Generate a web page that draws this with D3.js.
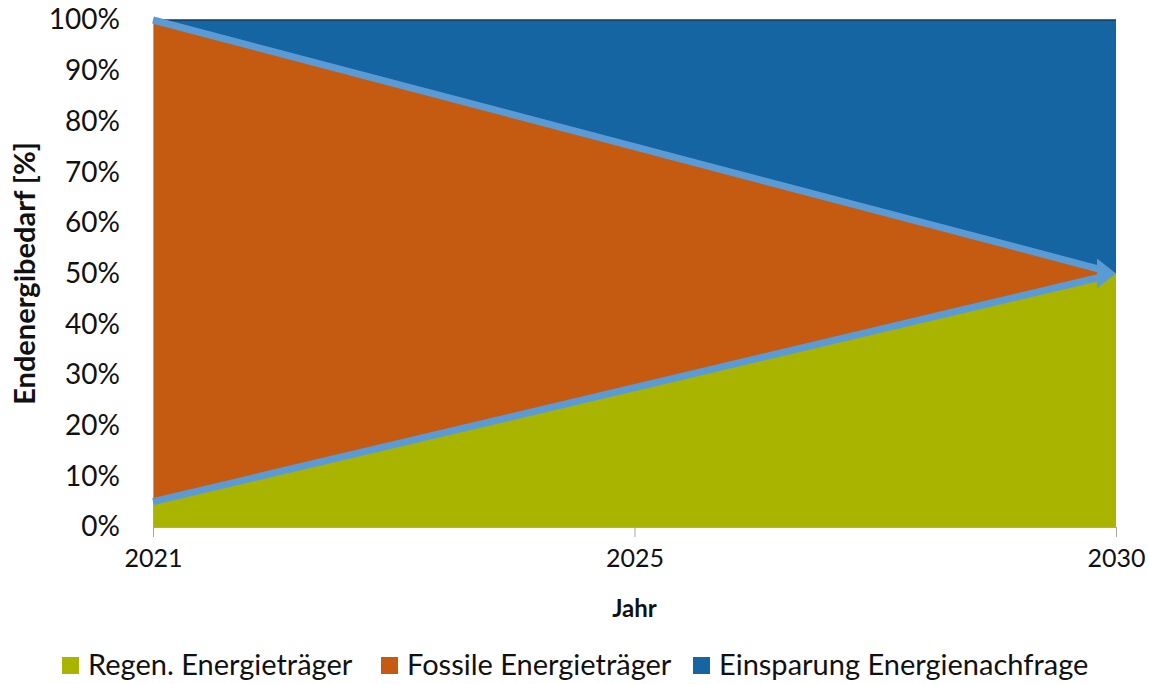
<!DOCTYPE html>
<html>
<head>
<meta charset="utf-8">
<script src="https://cdn.jsdelivr.net/npm/d3@7"></script>
<style>
  body { margin: 0; background: #fff; }
  text { font-family: Lato, "Open Sans", sans-serif; fill: #111; }
</style>
</head>
<body>
<svg id="chart" width="1149" height="684"></svg>
<script>
const years = ["2021", "2025", "2030"];
const regen = [5, 27.5, 50];
const fossil = [95, 47.5, 0];
const saving = [0, 25, 50];
const yTicks = [0, 10, 20, 30, 40, 50, 60, 70, 80, 90, 100];
const seriesNames = ["Regen. Energieträger", "Fossile Energieträger", "Einsparung Energienachfrage"];
const colors = ["#a8b400", "#c55a11", "#1665a3"];

const svg = d3.select("#chart");
const margin = { left: 153, right: 33, top: 20, bottom: 157 };
const W = 1149, H = 684;

const x = d3.scalePoint().domain(years).range([margin.left, W - margin.right]);
const y = d3.scaleLinear().domain([0, 100]).range([H - margin.bottom, margin.top]);

const rows = years.map((yr, i) => ({ year: yr, regen: regen[i], fossil: fossil[i], saving: saving[i] }));
const stack = d3.stack().keys(["regen", "fossil", "saving"])(rows);

const area = d3.area()
  .x(d => x(d.data.year))
  .y0(d => y(d[0]))
  .y1(d => y(d[1]));

svg.append("g")
  .selectAll("path")
  .data(stack)
  .join("path")
  .attr("d", area)
  .attr("fill", (d, i) => colors[i]);

// thin dark edge along the top
svg.append("line")
  .attr("x1", x("2021")).attr("x2", x("2030"))
  .attr("y1", y(100)).attr("y2", y(100))
  .attr("stroke", "#163a5a").attr("stroke-width", 1.5);

// axes
const xAxis = svg.append("g")
  .attr("transform", `translate(0,${y(0)})`)
  .call(d3.axisBottom(x).tickSize(10).tickPadding(12));
xAxis.select(".domain").attr("stroke", "#a6a6a6");
xAxis.selectAll(".tick line").attr("stroke", "#a6a6a6");
xAxis.selectAll("text").attr("font-size", 25).attr("fill", "#111");

const yAxis = svg.append("g")
  .attr("transform", `translate(${margin.left},0)`)
  .call(d3.axisLeft(y).tickValues(yTicks).tickSize(0).tickPadding(33).tickFormat(d => d + "%"));
yAxis.select(".domain").attr("stroke", "#a6a6a6");
yAxis.selectAll("text").attr("font-size", 28).attr("fill", "#111");

// arrows
const arrowColor = "#5b9bd5";
const headLen = 19, headHalf = 15;
const tip = [x("2030"), y(50)];
const arrows = [
  [[x("2021"), y(100)], tip],
  [[x("2021"), y(regen[0])], tip]
];
arrows.forEach(([a, b]) => {
  const dx = b[0] - a[0], dy = b[1] - a[1];
  const t = (dx - headLen + 2) / dx;
  svg.append("line")
    .attr("x1", a[0]).attr("y1", a[1])
    .attr("x2", a[0] + dx * t).attr("y2", a[1] + dy * t)
    .attr("stroke", arrowColor).attr("stroke-width", 7);
});
svg.append("path")
  .attr("d", `M${tip[0]},${tip[1]} L${tip[0] - headLen},${tip[1] - headHalf} L${tip[0] - headLen},${tip[1] + headHalf} Z`)
  .attr("fill", arrowColor);

// axis titles
svg.append("text")
  .attr("x", x("2025")).attr("y", 617)
  .attr("text-anchor", "middle")
  .attr("font-size", 24).attr("font-weight", "bold")
  .text("Jahr");

svg.append("text")
  .attr("transform", `translate(35,${y(50)}) rotate(-90)`)
  .attr("text-anchor", "middle")
  .attr("font-size", 29).attr("font-weight", "bold")
  .text("Endenergibedarf [%]");

// legend
const legendX = [62, 381, 693];
const legend = svg.append("g");
seriesNames.forEach((name, i) => {
  legend.append("rect")
    .attr("x", legendX[i]).attr("y", 657)
    .attr("width", 17).attr("height", 17)
    .attr("fill", colors[i]);
  legend.append("text")
    .attr("x", legendX[i] + 26).attr("y", 675)
    .attr("font-size", 29)
    .text(name);
});
</script>
</body>
</html>
